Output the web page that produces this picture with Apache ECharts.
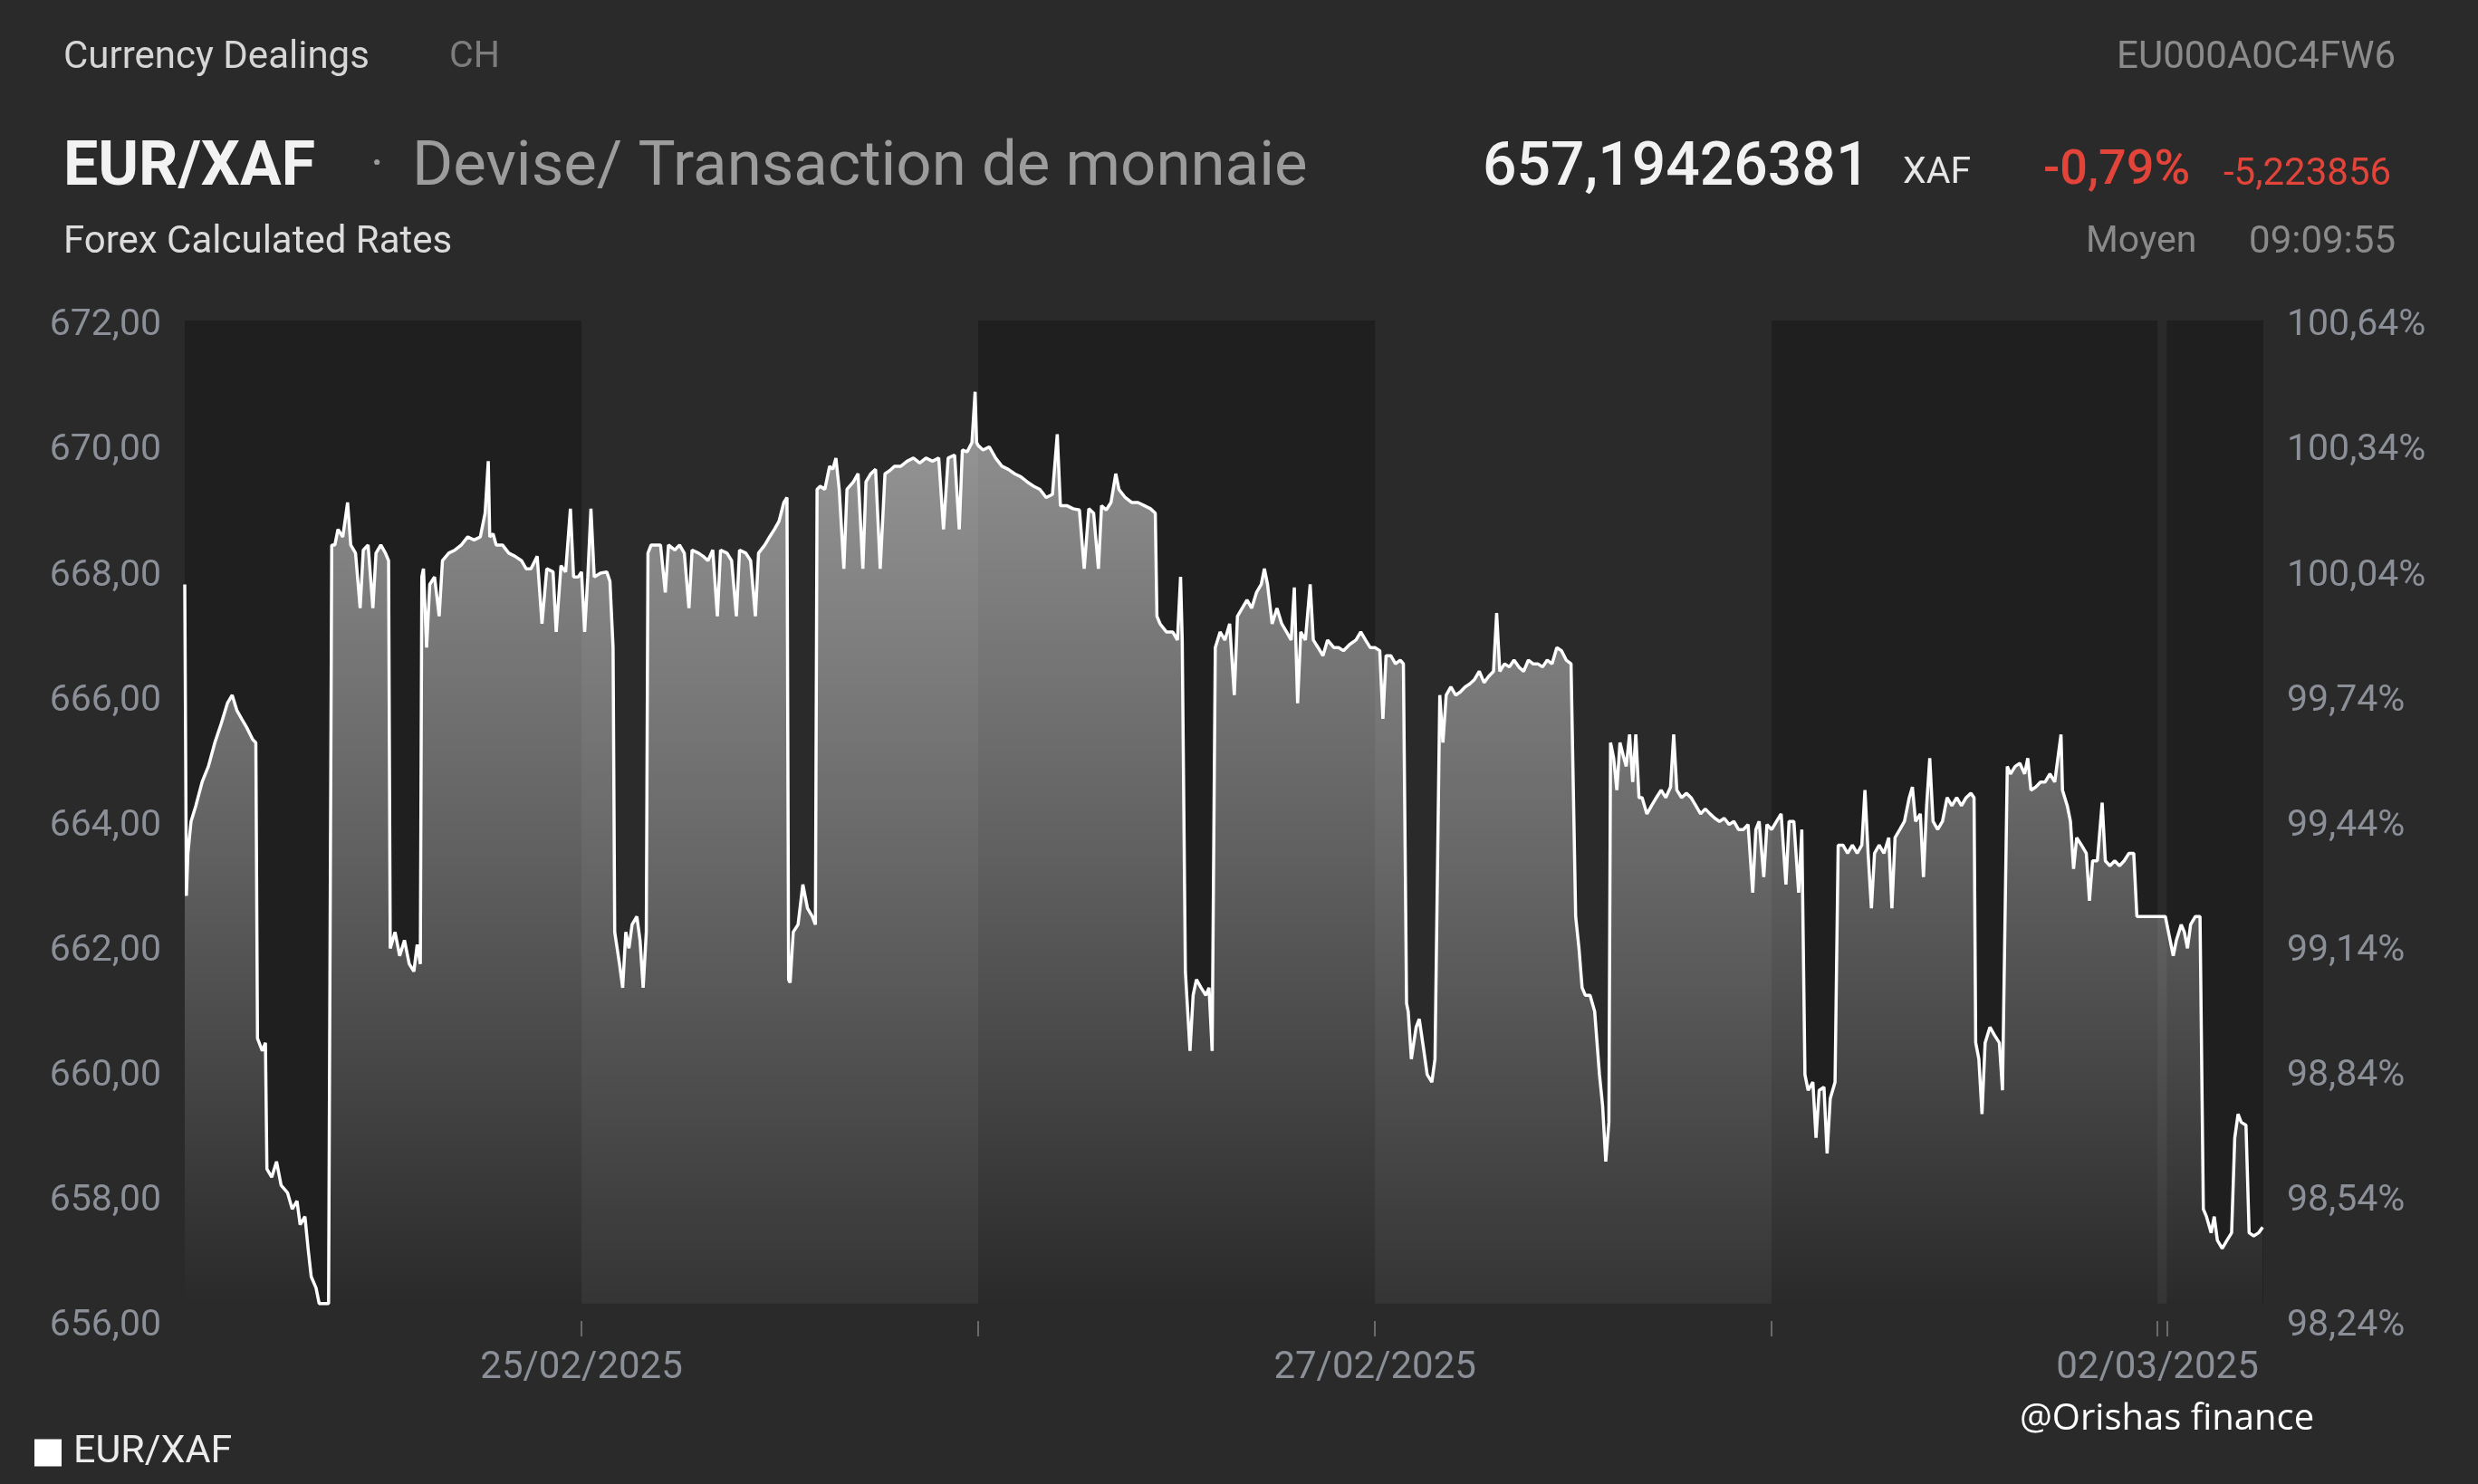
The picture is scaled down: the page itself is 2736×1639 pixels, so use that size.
<!DOCTYPE html>
<html>
<head>
<meta charset="utf-8">
<script src="https://cdn.jsdelivr.net/npm/echarts@6/dist/echarts.min.js"></script>
<style>
html,body{margin:0;padding:0;background:#2a2a2a;}
#chart{width:2736px;height:1639px;}
</style>
</head>
<body>
<div id="chart"></div>
<script>
// ---- DATA ----
// time in hours since 24/02/2025 00:00 (weekend compressed as in the original chart)
const timeHours = [
0.00,0.10,0.19,0.38,0.67,1.05,1.43,1.82,2.20,2.58,2.87,3.16,3.44,3.73,4.11,4.30,4.40,4.69,4.88,4.97,
5.26,5.55,5.83,6.22,6.50,6.79,6.98,7.27,7.46,7.65,7.94,8.13,8.70,8.89,9.08,9.27,9.56,9.85,10.04,10.33,
10.61,10.80,11.09,11.38,11.57,11.86,12.14,12.33,12.43,12.72,13.00,13.29,13.58,13.86,14.06,14.25,14.34,14.44,14.63,14.82,
15.11,15.39,15.59,15.97,16.35,16.73,17.12,17.50,17.88,18.17,18.36,18.45,18.65,18.84,19.22,19.60,19.98,20.37,20.65,20.94,
21.32,21.61,21.90,22.28,22.47,22.76,23.04,23.33,23.52,23.81,
24.00,24.19,24.38,24.57,24.77,25.15,25.53,25.72,25.91,26.01,26.30,26.49,26.68,26.87,27.06,27.35,27.54,27.73,27.92,28.02,
28.21,28.49,28.78,29.07,29.26,29.64,29.93,30.22,30.50,30.69,31.08,31.36,31.65,31.94,32.22,32.41,32.80,33.08,33.37,33.56,
33.94,34.23,34.52,34.71,35.09,35.38,35.67,35.95,36.24,36.43,36.53,36.62,36.81,37.10,37.39,37.67,37.96,38.15,38.25,38.44,
38.72,39.01,39.20,39.39,39.59,39.87,40.06,40.45,40.73,41.02,41.21,41.50,41.79,42.07,42.36,42.65,42.93,43.32,43.70,44.08,
44.46,44.84,45.23,45.61,45.90,46.18,46.57,46.85,47.04,47.33,47.62,47.81,47.90,
48.00,48.29,48.67,49.05,49.43,49.82,50.20,50.58,50.96,51.35,51.73,52.11,52.49,52.78,52.97,53.35,53.74,54.12,54.41,54.69,
54.98,55.27,55.46,55.74,56.03,56.32,56.51,56.89,57.28,57.66,58.04,58.42,58.71,58.81,59.00,59.38,59.76,60.05,60.24,60.34,
60.53,60.81,61.00,61.20,61.48,61.77,61.96,62.15,62.34,62.63,62.92,63.21,63.49,63.68,63.97,64.26,64.54,64.83,65.12,65.31,
65.50,65.78,66.07,66.36,66.65,66.93,67.12,67.32,67.51,67.79,68.08,68.27,68.56,68.85,69.13,69.51,69.80,70.09,70.47,70.85,
71.14,71.43,71.71,
72.00,72.29,72.48,72.67,72.96,73.24,73.53,73.72,73.91,74.01,74.20,74.49,74.68,74.96,75.16,75.44,75.63,75.92,76.11,76.31,
76.59,76.88,77.16,77.45,77.74,78.02,78.31,78.60,78.88,79.17,79.36,79.55,79.84,80.13,80.41,80.70,80.99,81.28,81.56,81.85,
82.14,82.42,82.71,83.00,83.28,83.57,83.86,84.14,84.34,84.53,84.72,85.01,85.29,85.58,85.77,85.96,86.15,86.25,86.44,86.63,
86.82,87.01,87.20,87.40,87.59,87.78,87.97,88.16,88.45,88.73,89.02,89.31,89.59,89.88,90.07,90.26,90.55,90.84,91.12,91.41,
91.70,91.98,92.27,92.56,92.84,93.13,93.42,93.71,93.99,94.28,94.57,94.85,95.04,95.24,95.52,95.71,
96.00,96.29,96.57,96.86,97.05,97.34,97.63,97.82,98.01,98.20,98.49,98.68,98.87,99.16,99.35,99.54,99.83,100.02,100.31,100.59,
100.88,101.17,101.45,101.64,101.83,102.03,102.22,102.50,102.79,103.08,103.27,103.46,103.75,104.03,104.32,104.51,104.70,104.99,105.18,105.37,
105.56,105.76,106.04,106.33,106.61,106.90,107.19,107.48,107.76,108.05,108.24,108.34,108.53,108.72,108.91,109.20,109.48,109.77,109.96,110.25,
110.44,110.73,111.01,111.30,111.49,111.68,111.97,112.26,112.54,112.83,113.12,113.50,113.59,113.88,114.07,114.26,114.45,114.74,115.03,115.22,
115.41,115.70,115.99,116.18,116.46,116.75,117.04,117.32,117.61,117.90,118.09,119.81,
120.00,120.29,120.48,120.77,120.96,121.15,121.34,121.63,121.91,122.11,122.30,122.58,122.77,122.96,123.25,123.54,123.82,124.01,124.21,124.40,
124.69,124.88,125.16,125.45,125.70
];
const rates = [
667.78,662.80,663.48,663.99,664.24,664.62,664.87,665.25,665.55,665.88,666.01,665.76,665.63,665.50,665.30,665.25,660.52,660.32,660.45,658.43,
658.30,658.55,658.17,658.05,657.79,657.92,657.54,657.67,657.16,656.71,656.53,656.28,656.28,668.41,668.41,668.66,668.54,669.09,668.41,668.28,
667.40,668.33,668.41,667.40,668.28,668.41,668.28,668.16,661.96,662.22,661.84,662.09,661.71,661.59,662.02,661.71,667.90,668.03,666.77,667.78,
667.90,667.27,668.16,668.28,668.33,668.41,668.54,668.49,668.54,668.92,669.75,668.54,668.59,668.41,668.41,668.28,668.23,668.16,668.03,668.03,
668.23,667.15,668.03,667.98,667.02,668.08,667.98,668.99,667.90,667.90,
667.98,667.02,667.90,668.99,667.90,667.96,667.98,667.83,666.77,662.22,661.71,661.33,662.22,661.96,662.34,662.47,662.09,661.33,662.22,668.28,
668.41,668.41,668.41,667.65,668.41,668.33,668.41,668.28,667.40,668.33,668.28,668.23,668.16,668.33,667.27,668.33,668.28,668.16,667.27,668.33,
668.28,668.16,667.27,668.28,668.41,668.54,668.66,668.79,669.09,669.17,661.46,661.41,662.22,662.34,662.98,662.60,662.47,662.34,669.30,669.35,
669.30,669.67,669.62,669.80,669.30,668.03,669.30,669.42,669.55,668.03,669.42,669.55,669.62,668.03,669.55,669.60,669.67,669.67,669.75,669.80,
669.72,669.80,669.75,669.80,668.66,669.80,669.85,668.66,669.93,669.90,670.05,670.86,670.05,
670.00,669.93,669.98,669.80,669.67,669.62,669.55,669.50,669.42,669.35,669.30,669.17,669.22,670.18,669.04,669.04,668.99,668.97,668.03,668.99,
668.92,668.03,669.04,668.97,669.09,669.55,669.30,669.17,669.09,669.09,669.04,668.99,668.92,667.27,667.15,667.02,667.02,666.89,667.90,666.89,
661.59,660.32,661.21,661.46,661.33,661.21,661.33,660.32,666.77,667.02,666.89,667.15,666.01,667.27,667.40,667.53,667.40,667.65,667.78,668.03,
667.78,667.15,667.40,667.15,667.02,666.89,667.73,665.88,667.02,666.89,667.78,666.89,666.77,666.64,666.89,666.77,666.77,666.72,666.82,666.89,
667.02,666.89,666.77,
666.77,666.72,665.63,666.64,666.64,666.51,666.57,666.51,661.08,660.95,660.19,660.70,660.83,660.32,659.94,659.82,660.19,666.01,665.25,666.01,
666.14,666.01,666.06,666.14,666.19,666.26,666.39,666.21,666.31,666.39,667.32,666.39,666.51,666.46,666.57,666.46,666.39,666.57,666.51,666.51,
666.46,666.57,666.51,666.77,666.72,666.57,666.51,662.47,661.96,661.33,661.21,661.21,660.95,659.94,659.44,658.55,659.18,665.25,665.00,664.49,
665.25,665.05,664.87,665.38,664.62,665.38,664.37,664.37,664.11,664.24,664.37,664.49,664.37,664.54,665.38,664.49,664.37,664.44,664.37,664.24,
664.11,664.19,664.11,664.04,663.99,664.04,663.94,663.99,663.86,663.86,663.94,662.85,663.86,663.99,663.10,663.94,
663.86,663.99,664.11,662.98,663.99,663.99,662.85,663.86,659.94,659.69,659.82,658.93,659.69,659.74,658.68,659.56,659.82,663.61,663.61,663.48,
663.61,663.48,663.61,664.49,663.48,662.60,663.48,663.61,663.48,663.73,662.60,663.73,663.86,663.99,664.37,664.54,663.99,664.11,663.10,664.24,
665.00,663.99,663.86,663.99,664.37,664.24,664.37,664.24,664.37,664.44,664.37,660.45,660.19,659.31,660.45,660.70,660.57,660.45,659.69,664.87,
664.75,664.87,664.92,664.75,665.00,664.49,664.54,664.62,664.62,664.75,664.62,665.38,664.49,664.24,663.99,663.23,663.73,663.61,663.48,662.72,
663.36,663.36,664.29,663.36,663.28,663.36,663.28,663.36,663.48,663.48,662.47,662.47,
662.22,661.84,662.09,662.34,662.22,661.96,662.34,662.47,662.47,657.79,657.67,657.41,657.67,657.29,657.16,657.29,657.41,658.93,659.31,659.18,
659.13,657.41,657.36,657.41,657.50
];
// axis ticks / labels
const yTicks = [656, 658, 660, 662, 664, 666, 668, 670, 672];
const leftTickLabels = ['656,00','658,00','660,00','662,00','664,00','666,00','668,00','670,00','672,00'];
const rightTickLabels = ['98,24%','98,54%','98,84%','99,14%','99,44%','99,74%','100,04%','100,34%','100,64%'];
const xTickValues = [24, 48, 72, 96, 119.33, 119.90];
const xLabelValues = [24, 72, 119.33];
const xLabels = ['25/02/2025', '27/02/2025', '02/03/2025'];
// alternating day bands (dark ones), hours
const darkBands = [[0, 24], [48, 72], [96, 119.33], [119.90, 125.74]];
const seriesName = 'EUR/XAF';

// ---- CHART ----
const chart = echarts.init(document.getElementById('chart'), null, {renderer: 'canvas'});
const lineData = timeHours.map((t, i) => [t, rates[i]]);
const dataMin = Math.min.apply(null, rates);
const labelColor = '#8b8f97';
const font = 'Roboto';

const g = [];
function txt(text, x, y, size, color, weight, align, family) {
  g.push({type: 'text', z: 100, style: {
    text: text, x: x, y: y, fill: color,
    font: (weight || 'normal') + ' ' + size + 'px ' + (family || font),
    align: align || 'left', verticalAlign: 'middle'
  }});
}
txt('Currency Dealings', 70, 64, 42, '#d6d6d6');
txt('CH', 496, 64, 41, '#7d7d7d');
txt('EU000A0C4FW6', 2645, 64, 42, '#8b8b8b', 'normal', 'right');
txt('EUR/XAF', 70, 187, 68, '#f2f2f2', 'bold');
txt('·', 409, 185, 56, '#9a9a9a');
txt('Devise/ Transaction de monnaie', 455, 187, 69, '#9c9c9c');
txt('657,19426381', 1637, 187, 66, '#f2f2f2', '500');
txt('XAF', 2101, 192, 41, '#e6e6e6');
txt('-0,79%', 2256, 189, 54, '#e2443a', '500');
txt('-5,223856', 2455, 193, 42, '#e2443a');
txt('Forex Calculated Rates', 70, 268, 42, '#dcdcdc');
txt('Moyen', 2303, 268, 41, '#8a8a8a');
txt('09:09:55', 2645, 268, 42, '#8a8a8a', 'normal', 'right');
txt('@Orishas finance', 2230, 1568, 40, '#ffffff', 'normal', 'left', 'Open Sans');

const yAxisCommon = {
  type: 'value', min: 656, max: 672, interval: 2,
  splitLine: {show: false}, axisLine: {show: false}, axisTick: {show: false}
};
const yLabelRich = {v: {color: labelColor, fontSize: 41, fontFamily: font, padding: [12, 0, 0, 0]}};

chart.setOption({
  backgroundColor: '#2a2a2a',
  animation: false,
  grid: {left: 204, right: 237, top: 354, bottom: 180, containLabel: false},
  legend: {
    left: 33, top: 1578, icon: 'rect', itemWidth: 30, itemHeight: 30, itemGap: 14,
    textStyle: {color: '#ececec', fontSize: 43, fontFamily: font, padding: [0, 0, 0, 8]},
    data: [seriesName]
  },
  graphic: g,
  xAxis: {
    type: 'value', min: 0, max: 125.74,
    splitLine: {show: false},
    axisLine: {show: false},
    axisTick: {show: true, customValues: xTickValues, length: 17, lineStyle: {color: '#6a6a6a', width: 2}},
    axisLabel: {
      customValues: xLabelValues, color: labelColor, fontSize: 42, fontFamily: font, margin: 31,
      formatter: function (v) { const i = xLabelValues.findIndex(x => Math.abs(x - v) < 0.01); return i >= 0 ? xLabels[i] : ''; }
    }
  },
  yAxis: [
    Object.assign({}, yAxisCommon, {position: 'left', axisLabel: {color: labelColor, fontSize: 41, fontFamily: font, margin: 26, rich: yLabelRich,
      formatter: function (v) { return '{v|' + leftTickLabels[yTicks.indexOf(Math.round(v))] + '}'; }}}),
    Object.assign({}, yAxisCommon, {position: 'right', axisLabel: {color: labelColor, fontSize: 41, fontFamily: font, margin: 26, rich: yLabelRich,
      formatter: function (v) { return '{v|' + rightTickLabels[yTicks.indexOf(Math.round(v))] + '}'; }}})
  ],
  series: [
    {
      type: 'line', name: 'bands', data: [], z: 1, silent: true, legendHoverLink: false,
      markArea: {
        silent: true,
        itemStyle: {color: '#1f1f1f'},
        data: darkBands.map(b => [{xAxis: b[0], yAxis: dataMin}, {xAxis: b[1], yAxis: 672.1}])
      }
    },
    {
      type: 'line', name: seriesName, data: lineData, z: 3,
      showSymbol: false, symbol: 'none',
      itemStyle: {color: '#ffffff'},
      lineStyle: {color: '#ffffff', width: 3.5},
      areaStyle: {
        origin: dataMin,
        color: new echarts.graphic.LinearGradient(0, 0, 0, 1, [
          {offset: 0, color: 'rgba(255,255,255,0.74)'},
          {offset: 0.5, color: 'rgba(255,255,255,0.42)'},
          {offset: 1, color: 'rgba(255,255,255,0.07)'}
        ])
      }
    }
  ]
});
</script>
</body>
</html>
